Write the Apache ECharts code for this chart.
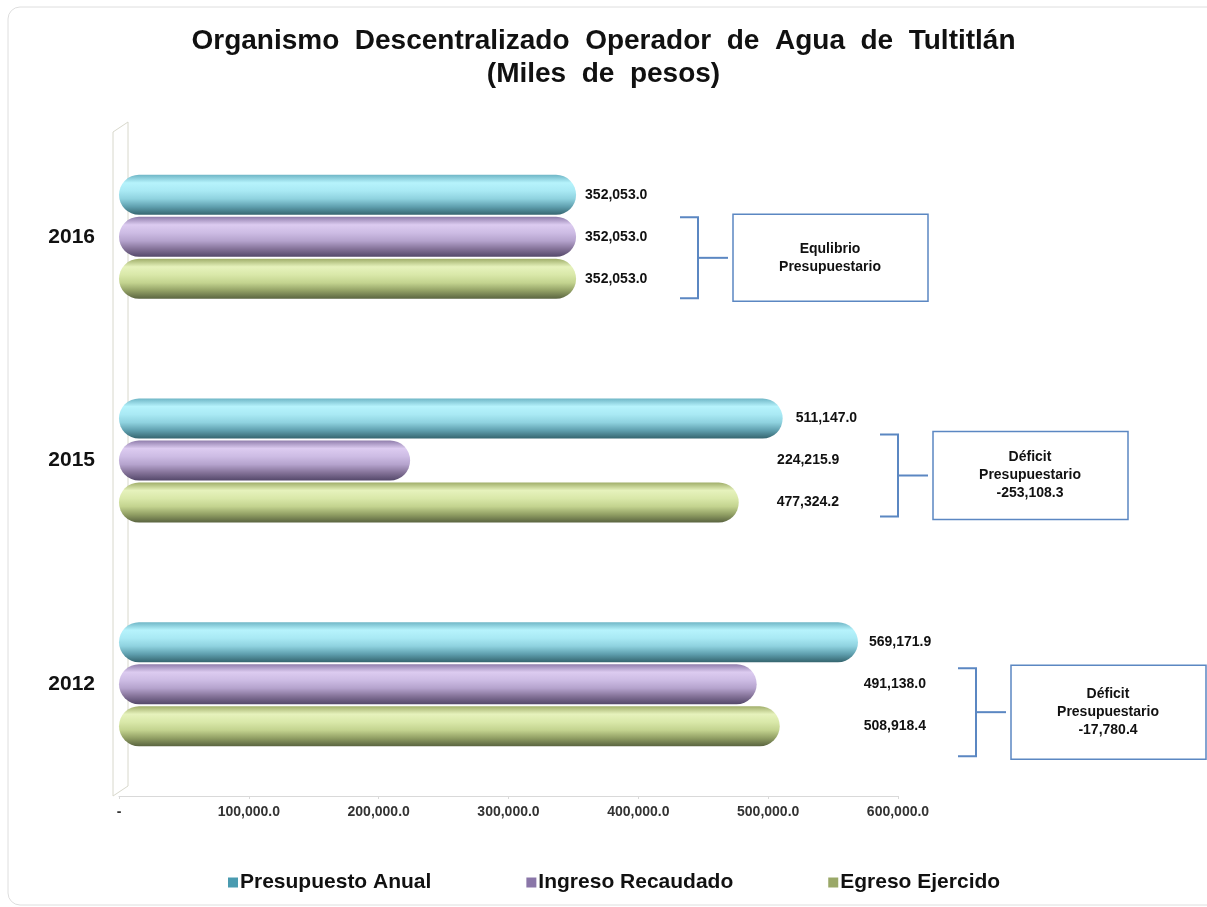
<!DOCTYPE html>
<html>
<head>
<meta charset="utf-8">
<script src="https://cdn.jsdelivr.net/npm/echarts@6/dist/echarts.min.js"></script>
<style>
  html, body { margin: 0; padding: 0; background: #fff; }
  #chart { width: 1207px; height: 907px; }
</style>
</head>
<body>
<div id="chart"></div>
<script>
// datos (miles de pesos)
const years = ['2016', '2015', '2012']
const presupuesto = [352053.0, 511147.0, 569171.9]
const ingreso = [352053.0, 224215.9, 491138.0]
const egreso = [352053.0, 477324.2, 508918.4]
const seriesNames = ['Presupuesto Anual', 'Ingreso Recaudado', 'Egreso Ejercido']
const noteTitles = ['Equlibrio\nPresupuestario', 'Déficit\nPresupuestario', 'Déficit\nPresupuestario']
const xMin = 0
const xMax = 600000
const xStep = 100000

// corrimiento extra de etiquetas (px), por serie y año
const labelNudge = {
  'Presupuesto Anual': [0, 4, 2],
  'Ingreso Recaudado': [0, 358, 98],
  'Egreso Ejercido': [0, 29, 75]
}
// posicion de las llaves / cuadros
const noteLayout = [
  { x: 680, dy: 21, h: 87 },
  { x: 880, dy: 15, h: 88 },
  { x: 958, dy: 28, h: 94 }
]

const fmt = v => v.toLocaleString('en-US', { minimumFractionDigits: 1, maximumFractionDigits: 1 })

function tube (stops) {
  return new echarts.graphic.LinearGradient(0, 0, 0, 1, stops.map((c, i) => ({ offset: i / (stops.length - 1), color: c })))
}
const colors = [
  tube(['#6fb6c6', '#b6f3fc', '#a9e9f4', '#8fd2df', '#5f9fae', '#35656f']),
  tube(['#8f7dab', '#dccbf0', '#cdbce4', '#b5a3cd', '#857399', '#54486a']),
  tube(['#a0ae6a', '#e6f2bc', '#d9e8a9', '#c3d38f', '#919f64', '#5a6440'])
]
const legendColors = ['#4a9bb0', '#8a76a8', '#9aa868']

const chart = echarts.init(document.getElementById('chart'))

function makeSeries (name, data, idx) {
  return {
    name: name,
    type: 'bar',
    data: data.map((v, i) => ({
      value: v,
      label: { offset: [labelNudge[name][i], 0] }
    })),
    barWidth: 40,
    barGap: '5%',
    barCategoryGap: '40%',
    itemStyle: { color: colors[idx], borderRadius: 20 },
    label: {
      show: true,
      position: 'right',
      distance: 9,
      formatter: p => fmt(p.value),
      fontFamily: 'Liberation Sans',
      fontWeight: 'bold',
      fontSize: 14,
      color: '#111'
    }
  }
}

const option = {
  backgroundColor: '#fff',
  animation: false,
  title: {
    text: 'Organismo  Descentralizado  Operador  de  Agua  de  Tultitlán\n(Miles  de  pesos)',
    left: 'center',
    top: 20,
    textStyle: {
      fontFamily: 'Liberation Sans',
      fontWeight: 'bold',
      fontSize: 28,
      lineHeight: 33,
      color: '#111',
      align: 'center'
    }
  },
  grid: { left: 119, right: 309, top: 125, bottom: 111, containLabel: false },
  legend: {
    bottom: 9,
    left: 223,
    itemGap: 95,
    itemWidth: 10,
    itemHeight: 10,
    icon: 'rect',
    textStyle: { fontFamily: 'Liberation Sans', fontWeight: 'bold', fontSize: 21, color: '#111', padding: [0, 0, 0, -3] },
    data: seriesNames.map((n, i) => ({ name: n, itemStyle: { color: legendColors[i] } }))
  },
  xAxis: {
    type: 'value',
    min: xMin,
    max: xMax,
    interval: xStep,
    axisLine: { show: true, lineStyle: { color: '#d9d9d9' } },
    axisTick: { show: true, length: 3, lineStyle: { color: '#d9d9d9' } },
    splitLine: { show: false },
    axisLabel: {
      margin: 9,
      fontFamily: 'Liberation Sans',
      fontWeight: 'bold',
      fontSize: 14,
      color: '#333',
      formatter: v => v === 0 ? '-' : fmt(v)
    }
  },
  yAxis: {
    type: 'category',
    inverse: true,
    data: years,
    axisLine: { show: false },
    axisTick: { show: false },
    axisLabel: {
      margin: 24,
      fontFamily: 'Liberation Sans',
      fontWeight: 'bold',
      fontSize: 21,
      color: '#111'
    }
  },
  series: [
    makeSeries(seriesNames[0], presupuesto, 0),
    makeSeries(seriesNames[1], ingreso, 1),
    makeSeries(seriesNames[2], egreso, 2)
  ]
}
chart.setOption(option)

// marco, pared 3D y llaves con cuadros
const x0 = chart.convertToPixel({ xAxisIndex: 0 }, xMin)
const blue = '#5b87c2'
const wallColor = '#d8d8cc'
const g = [
  {
    type: 'rect',
    shape: { x: 8, y: 7, width: 1220, height: 898, r: 12 },
    style: { fill: 'none', stroke: '#dedede', lineWidth: 1 },
    silent: true
  },
  {
    type: 'polyline',
    shape: { points: [[x0 - 6, 796], [x0 - 6, 132], [x0 + 9, 122], [x0 + 9, 786], [x0 - 6, 796]] },
    style: { fill: 'none', stroke: wallColor, lineWidth: 1 },
    silent: true
  }
]
years.forEach((y, i) => {
  const L = noteLayout[i]
  const cy = chart.convertToPixel({ yAxisIndex: 0 }, y) + L.dy
  const bh = L.h - 6
  const vx = L.x + 18
  g.push({
    type: 'polyline',
    shape: { points: [[L.x, cy - bh / 2], [vx, cy - bh / 2], [vx, cy + bh / 2], [L.x, cy + bh / 2]] },
    style: { fill: 'none', stroke: blue, lineWidth: 2 },
    silent: true
  })
  g.push({
    type: 'line',
    shape: { x1: vx, y1: cy, x2: vx + 30, y2: cy },
    style: { stroke: blue, lineWidth: 2 },
    silent: true
  })
  let txt = noteTitles[i]
  const diff = ingreso[i] - egreso[i]
  if (Math.abs(diff) > 0.05) txt += '\n' + fmt(diff)
  g.push({
    type: 'rect',
    shape: { x: vx + 35, y: cy - L.h / 2, width: 195, height: L.h },
    style: { fill: '#fff', stroke: blue, lineWidth: 1.5 },
    silent: true
  })
  g.push({
    type: 'text',
    x: vx + 35 + 97,
    y: cy,
    style: {
      text: txt,
      align: 'center',
      verticalAlign: 'middle',
      fontFamily: 'Liberation Sans',
      fontWeight: 'bold',
      fontSize: 14,
      lineHeight: 18,
      fill: '#111'
    },
    silent: true
  })
})
chart.setOption({ graphic: g })
</script>
</body>
</html>
